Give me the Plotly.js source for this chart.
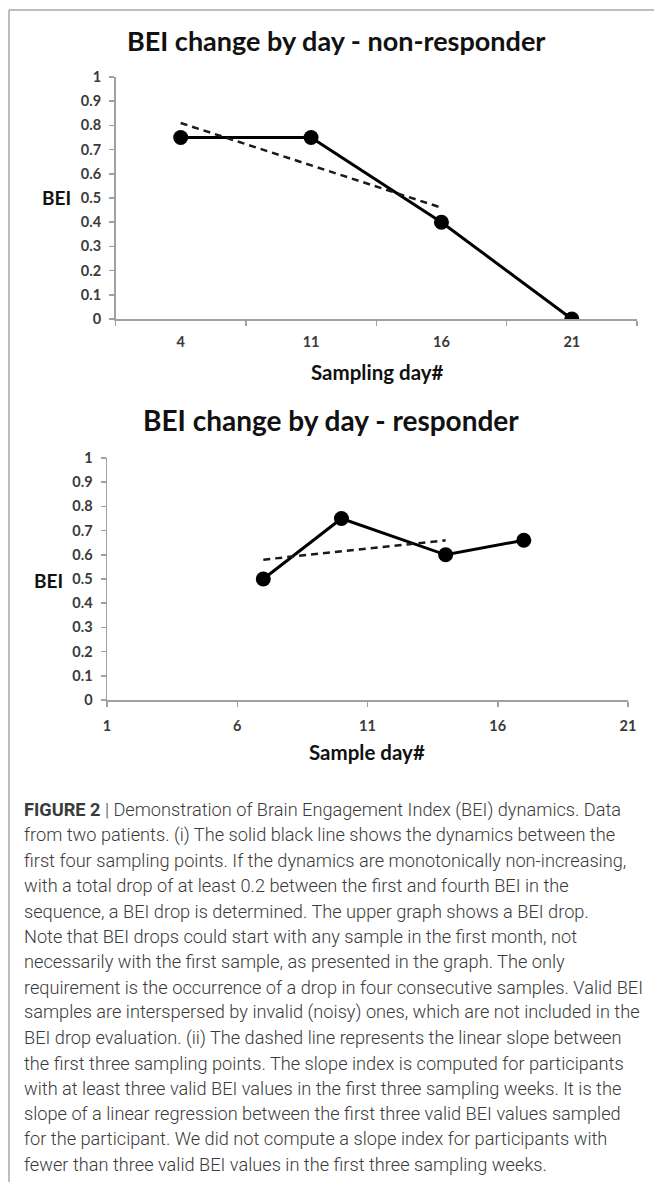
<!DOCTYPE html>
<html>
<head>
<meta charset="utf-8">
<script src="https://cdn.plot.ly/plotly-3.0.1.min.js"></script>
<style>
  html, body { margin: 0; padding: 0; background: #fff; }
  #chart { width: 654px; height: 1182px; }
</style>
</head>
<body>
<div id="chart"></div>
<script>
// ---- data ----
const topDays = ['4', '11', '16', '21'];
const topBEI = [0.75, 0.75, 0.40, 0.0];
const topTrendDays = ['4', '11', '16'];
const topTrendBEI = [0.81, 0.635, 0.46];

const botDays = [7, 10, 14, 17];
const botBEI = [0.50, 0.75, 0.60, 0.66];
const botTrendDays = [7, 14];
const botTrendBEI = [0.58, 0.66];

const topTitle = 'BEI change by day - non-responder';
const botTitle = 'BEI change by day - responder';
const topXTitle = 'Sampling day#';
const botXTitle = 'Sample day#';
const yTitle = 'BEI';

const captionLines = [
  '<b>FIGURE 2</b> | Demonstration of Brain Engagement Index (BEI) dynamics. Data',
  'from two patients. (i) The solid black line shows the dynamics between the',
  'first four sampling points. If the dynamics are monotonically non-increasing,',
  'with a total drop of at least 0.2 between the first and fourth BEI in the',
  'sequence, a BEI drop is determined. The upper graph shows a BEI drop.',
  'Note that BEI drops could start with any sample in the first month, not',
  'necessarily with the first sample, as presented in the graph. The only',
  'requirement is the occurrence of a drop in four consecutive samples. Valid BEI',
  'samples are interspersed by invalid (noisy) ones, which are not included in the',
  'BEI drop evaluation. (ii) The dashed line represents the linear slope between',
  'the first three sampling points. The slope index is computed for participants',
  'with at least three valid BEI values in the first three sampling weeks. It is the',
  'slope of a linear regression between the first three valid BEI values sampled',
  'for the participant. We did not compute a slope index for participants with',
  'fewer than three valid BEI values in the first three sampling weeks.'
];

// ---- layout helpers ----
const W = 654, H = 1182;
const px = v => v / W;
const py = v => 1 - v / H;

const chartFont = 'Lato, "Open Sans", sans-serif';
const tickFont = { family: chartFont, size: 14.5, color: '#3a3a3a', weight: 700 };
const axisColor = '#a0a0a0';

const lineStyle = { color: '#000', width: 3 };
const markerStyle = { color: '#000', size: 15 };
const dashStyle = { color: '#1a1a1a', width: 2.5, dash: '7px,5px' };

const traces = [
  { x: topDays, y: topBEI, xaxis: 'x', yaxis: 'y', mode: 'lines+markers',
    line: lineStyle, marker: markerStyle, showlegend: false, hoverinfo: 'skip' },
  { x: topTrendDays, y: topTrendBEI, xaxis: 'x', yaxis: 'y', mode: 'lines',
    line: dashStyle, showlegend: false, hoverinfo: 'skip' },
  { x: botDays, y: botBEI, xaxis: 'x2', yaxis: 'y2', mode: 'lines+markers',
    line: lineStyle, marker: markerStyle, showlegend: false, hoverinfo: 'skip' },
  { x: botTrendDays, y: botTrendBEI, xaxis: 'x2', yaxis: 'y2', mode: 'lines',
    line: dashStyle, showlegend: false, hoverinfo: 'skip' }
];

const yAxisBase = {
  range: [0, 1], tick0: 0, dtick: 0.1, showgrid: false, zeroline: false,
  showline: true, linecolor: axisColor, linewidth: 1.5,
  ticks: 'outside', ticklen: 5, tickcolor: axisColor, tickwidth: 1.5,
  tickfont: tickFont, ticklabelstandoff: 5, fixedrange: true
};

const layout = {
  width: W, height: H,
  margin: { l: 0, r: 0, t: 0, b: 0 },
  paper_bgcolor: '#fff', plot_bgcolor: 'rgba(0,0,0,0)',
  xaxis: {
    domain: [px(115.5), px(637)], anchor: 'y',
    type: 'category', categoryorder: 'array', categoryarray: topDays,
    range: [-0.5, 3.5], tickson: 'boundaries',
    showgrid: false, zeroline: false, showline: true, linecolor: axisColor, linewidth: 1.5,
    ticks: 'outside', ticklen: 5, tickcolor: axisColor, tickwidth: 1.5,
    tickfont: tickFont, ticklabelstandoff: 9, fixedrange: true
  },
  yaxis: Object.assign({}, yAxisBase, { domain: [py(319), py(77)], anchor: 'x' }),
  xaxis2: {
    domain: [px(107), px(628)], anchor: 'y2',
    range: [1, 21], tick0: 1, dtick: 5,
    showgrid: false, zeroline: false, showline: true, linecolor: axisColor, linewidth: 1.5,
    ticks: 'outside', ticklen: 5, tickcolor: axisColor, tickwidth: 1.5,
    tickfont: tickFont, ticklabelstandoff: 7, fixedrange: true
  },
  yaxis2: Object.assign({}, yAxisBase, { domain: [py(700), py(458)], anchor: 'x2' }),
  shapes: [
    { type: 'line', xref: 'paper', yref: 'paper', x0: px(9), x1: 1, y0: py(10), y1: py(10),
      line: { color: '#a8a8a8', width: 1.5 } },
    { type: 'line', xref: 'paper', yref: 'paper', x0: px(9), x1: px(9), y0: py(10), y1: 0,
      line: { color: '#a8a8a8', width: 1.5 } }
  ],
  annotations: []
};

function addText(text, x, y, size, opts) {
  layout.annotations.push(Object.assign({
    text: text, xref: 'paper', yref: 'paper', x: px(x), y: py(y),
    xanchor: 'center', yanchor: 'middle', showarrow: false,
    font: { family: chartFont, size: size, color: '#111', weight: 700 }
  }, opts || {}));
}

addText(topTitle, 336, 40, 27);
addText(botTitle, 331, 420, 28);
addText(topXTitle, 377, 372, 20.5);
addText(botXTitle, 367, 752, 20.5);
addText(yTitle, 56, 198, 19);
addText(yTitle, 48, 580, 19);

const capFont = { family: 'Roboto, "Liberation Sans", sans-serif', size: 18.2, color: '#3a3a3a', weight: 300 };
captionLines.forEach((t, i) => {
  layout.annotations.push({
    text: t, xref: 'paper', yref: 'paper', x: px(22), y: py(810 + i * 25.3),
    xanchor: 'left', yanchor: 'middle', align: 'left', showarrow: false, font: capFont
  });
});

Plotly.newPlot('chart', traces, layout, { staticPlot: true, displayModeBar: false });
</script>
</body>
</html>
